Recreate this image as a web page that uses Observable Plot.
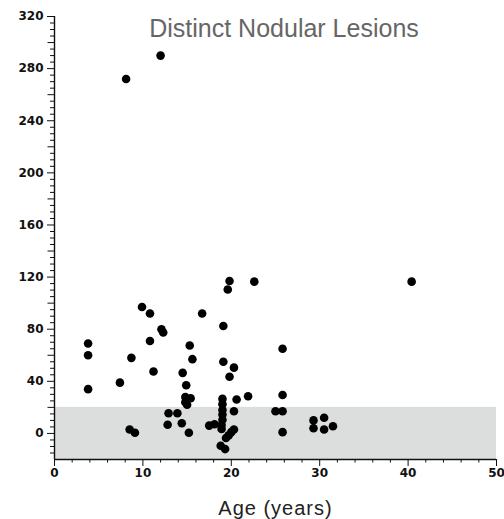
<!DOCTYPE html>
<html>
<head>
<meta charset="utf-8">
<script src="https://cdn.jsdelivr.net/npm/d3@7"></script>
<script src="https://cdn.jsdelivr.net/npm/@observablehq/plot@0.6"></script>
<style>
  html, body { margin: 0; padding: 0; background: #fff; }
  #chart svg { display: block; }
</style>
</head>
<body>
<div id="chart"></div>
<script>
// ---- data ----
const ages = [
  3.8, 3.8, 3.8, 7.4, 8.7, 9.9, 10.8, 10.8, 11.2, 12.1, 12.3,
  8.5, 9.1, 12.8, 12.9, 13.9, 14.4, 14.5, 14.9, 15.3, 15.6,
  14.8, 15.4, 14.8, 15.0, 15.2, 8.1, 12.0, 16.7, 17.5, 18.1,
  19.1, 19.1, 19.8, 20.3, 19.0, 19.0, 19.0, 19.0, 19.0, 18.9, 18.9,
  20.3, 20.6, 21.9, 18.8, 19.3, 20.3, 20.0, 19.7, 19.4,
  19.8, 19.6, 22.6, 40.4, 25.0, 25.8, 25.8, 25.8, 25.8,
  29.3, 29.3, 30.5, 30.5, 31.5
];
const lesions = [
  69, 60, 34, 39, 58, 97, 92, 71, 47.5, 80, 77.5,
  3, 0.5, 6.7, 15.5, 15.5, 7.8, 46.5, 37, 67.5, 57,
  28, 27, 24, 22, 0.5, 272, 290, 92, 6, 7,
  82.5, 55, 43.5, 50.5, 26.5, 22.5, 18, 14.5, 10.5, 6.5, 3.5,
  17, 26, 28.5, -9.5, -12, 3, 1, -1.5, -3.5,
  117, 110.5, 116.5, 116.5, 17, 17, 29.5, 65, 1,
  10, 4, 12, 3, 5.5
];
const xDomain = [0, 50];
const yDomain = [-20, 320];
const bandLow = -20;
const bandHigh = 20;
const xMajorTicks = [0, 10, 20, 30, 40, 50];
const yMajorTicks = [0, 40, 80, 120, 160, 200, 240, 280, 320];
const titleText = "Distinct Nodular Lesions";
const xLabelText = "Age (years)";

// ---- derived tables ----
const points = ages.map((a, i) => ({age: a, count: lesions[i]}));
const band = [{x1: xDomain[0], x2: xDomain[1], y1: bandLow, y2: bandHigh}];
const xMinor = d3.range(xDomain[0], xDomain[1] + 1, 2).filter(v => v % 10 !== 0);
const yMid = d3.range(yDomain[0], yDomain[1] + 1, 5).filter(v => v % 40 === 20);
const yMinor = d3.range(yDomain[0], yDomain[1] + 1, 5).filter(v => v % 20 !== 0);

const tickFont = "DejaVu Sans, sans-serif";

const chart = Plot.plot({
  width: 504,
  height: 519,
  marginLeft: 54,
  marginRight: 8,
  marginTop: 16,
  marginBottom: 60,
  style: {fontFamily: "Liberation Sans, Arial, sans-serif", background: "#fff", color: "#000"},
  x: {domain: xDomain},
  y: {domain: yDomain},
  marks: [
    Plot.rect(band, {x1: "x1", x2: "x2", y1: "y1", y2: "y2", fill: "#dcdddd"}),
    Plot.dot(points, {x: "age", y: "count", r: 4.3, fill: "#000"}),
    // y axis
    Plot.axisY({ticks: yMinor, tickSize: 4, tickFormat: () => "", label: null, stroke: "#111"}),
    Plot.axisY({ticks: yMid, tickSize: 6.5, tickFormat: () => "", label: null, stroke: "#111"}),
    Plot.axisY({ticks: yMajorTicks, tickSize: 7, tickPadding: 4, tickFormat: d => String(d), label: null,
      fontSize: 12, fontWeight: "bold", fontFamily: tickFont, fill: "#111", stroke: "#111"}),
    Plot.ruleX([xDomain[0]], {y1: yDomain[0], y2: yDomain[1], stroke: "#111", strokeWidth: 1.4}),
    // x axis
    Plot.axisX({ticks: xMinor, tickSize: 3.5, tickFormat: () => "", label: null, stroke: "#111"}),
    Plot.axisX({ticks: xMajorTicks, tickSize: 7, tickPadding: 2, tickFormat: d => String(d), label: null,
      fontSize: 12, fontWeight: "bold", fontFamily: tickFont, fill: "#111", stroke: "#111"}),
    Plot.ruleY([yDomain[0]], {x1: xDomain[0], x2: xDomain[1], stroke: "#111", strokeWidth: 1.4}),
    // texts
    Plot.text([titleText], {frameAnchor: "top", dx: 8.5, dy: 3, lineAnchor: "top", text: d => d,
      fontSize: 25, fill: "#666", fontFamily: "Liberation Sans, Arial, sans-serif"}),
    Plot.text([xLabelText], {frameAnchor: "bottom", dy: 49, lineAnchor: "middle", text: d => d,
      fontSize: 20, fill: "#222", fontFamily: "Liberation Sans, Arial, sans-serif"})
  ]
});

d3.select(chart).selectAll("text")
  .filter(function() { return this.textContent === xLabelText; })
  .attr("letter-spacing", "1px");

document.getElementById("chart").appendChild(chart);
</script>
</body>
</html>
